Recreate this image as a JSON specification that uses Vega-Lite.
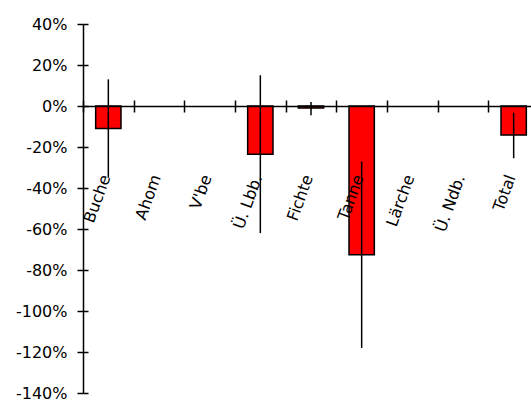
{
  "$schema": "https://vega.github.io/schema/vega-lite/v6.json",
  "width": 448,
  "height": 369,
  "autosize": {"type": "none"},
  "padding": {"left": 83, "top": 24, "right": 0, "bottom": 8},
  "background": "white",
  "config": {
    "view": {"stroke": null},
    "axis": {
      "labelFont": "DejaVu Sans",
      "labelFontSize": 16,
      "labelColor": "black",
      "domainColor": "black",
      "domainWidth": 1.5,
      "tickColor": "black",
      "tickWidth": 1.5,
      "grid": false,
      "title": null
    }
  },
  "data": {
    "values": [
      {"cat": "Buche", "value": -0.11, "lo": -0.35, "hi": 0.13},
      {"cat": "Ahom", "value": null, "lo": null, "hi": null},
      {"cat": "V'be", "value": null, "lo": null, "hi": null},
      {"cat": "Ü. Lbb.", "value": -0.235, "lo": -0.62, "hi": 0.15},
      {"cat": "Fichte", "value": -0.01, "lo": -0.045, "hi": 0.02},
      {"cat": "Tanne", "value": -0.725, "lo": -1.18, "hi": -0.27},
      {"cat": "Lärche", "value": null, "lo": null, "hi": null},
      {"cat": "Ü. Ndb.", "value": null, "lo": null, "hi": null},
      {"cat": "Total", "value": -0.142, "lo": -0.255, "hi": -0.033}
    ]
  },
  "resolve": {"axis": {"x": "independent", "y": "independent"}},
  "layer": [
    {
      "mark": {"type": "bar", "fill": "#ff0000", "stroke": "black", "strokeWidth": 1.5, "width": {"band": 0.5}},
      "encoding": {
        "x": {
          "field": "cat", "type": "nominal", "sort": null,
          "scale": {"domain": ["Buche", "Ahom", "V'be", "Ü. Lbb.", "Fichte", "Tanne", "Lärche", "Ü. Ndb.", "Total"], "range": [0, 456], "paddingInner": 0, "paddingOuter": 0},
          "axis": {"orient": "bottom", "offset": -287, "zindex": 1, "tickBand": "extent", "tickSize": 6, "labelAngle": -70, "labelPadding": 63, "labelOffset": -3, "labelAlign": "right", "labelBaseline": "middle"}
        },
        "y": {
          "field": "value", "type": "quantitative",
          "scale": {"domain": [-1.4, 0.4], "nice": false, "zero": false},
          "axis": {"orient": "left", "values": [-1.4, -1.2, -1.0, -0.8, -0.6, -0.4, -0.2, 0, 0.2, 0.4], "format": ".0%", "labelExpr": "replace(datum.label, '\u2212', '-')", "tickSize": 6, "labelPadding": 10}
        }
      }
    },
    {
      "mark": {"type": "rule", "color": "black", "strokeWidth": 1.5},
      "encoding": {
        "x": {
          "field": "cat", "type": "nominal", "sort": null,
          "axis": {"orient": "top", "offset": -82, "tickBand": "extent", "tickSize": 6, "labels": false, "domain": false}
        },
        "y": {
          "field": "lo", "type": "quantitative",
          "axis": {"orient": "right", "offset": -448, "values": [-1.4, -1.2, -1.0, -0.8, -0.6, -0.4, -0.2, 0, 0.2, 0.4], "labels": false, "domain": false, "tickSize": 5}
        },
        "y2": {"field": "hi"}
      }
    }
  ]
}
